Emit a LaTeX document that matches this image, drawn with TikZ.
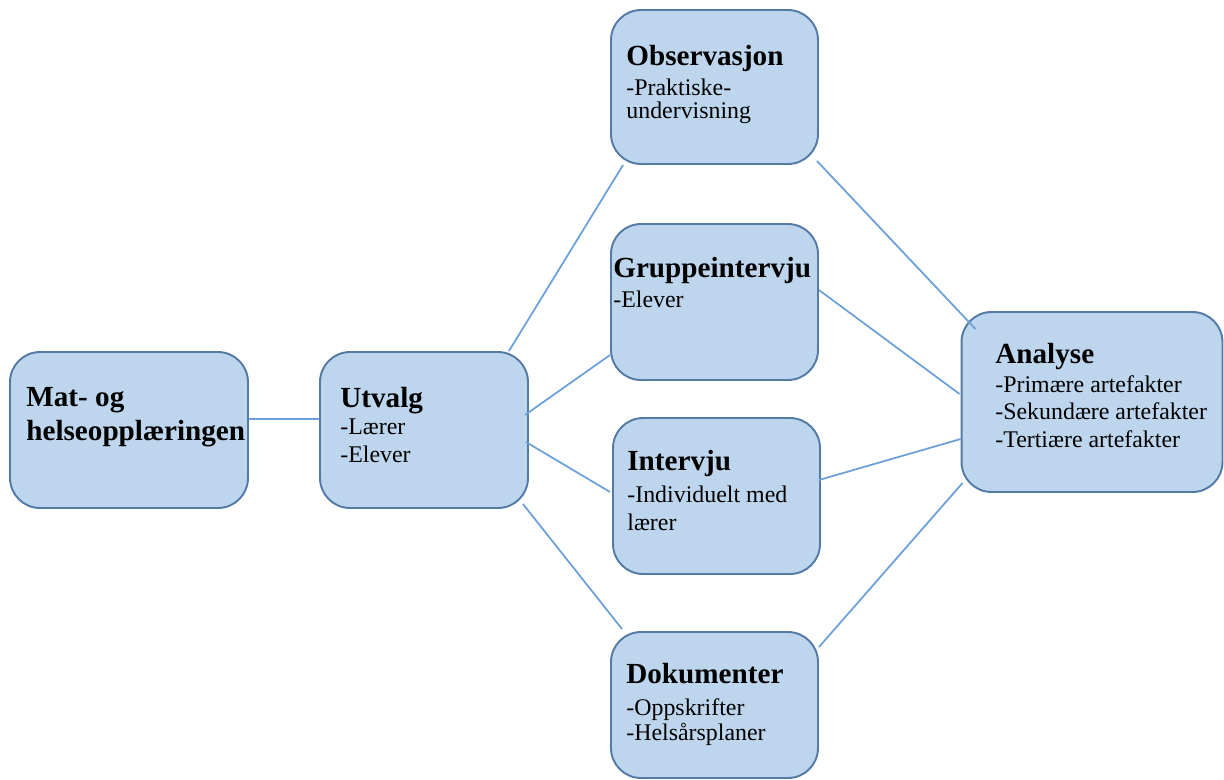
\documentclass[tikz,border=0pt]{standalone}
\usepackage{fontspec}
\setmainfont{Liberation Serif}
\usetikzlibrary{positioning}
\usetikzlibrary{calc}

\definecolor{boxfill}{RGB}{190,214,237}
\definecolor{boxline}{RGB}{84,122,166}
\definecolor{linkblue}{RGB}{108,160,216}

\begin{document}
\begin{tikzpicture}[x=0.02cm, y=-0.02cm,
    box/.style={draw=boxline, fill=boxfill, line width=1.1pt, rounded corners=0.6cm, inner sep=0pt},
    ttl/.style={anchor=base west, inner sep=0pt, align=left, font=\fontsize{16.6}{18.8}\selectfont\bfseries},
    txt/.style={anchor=base west, inner sep=0pt, align=left, font=\fontsize{13.6}{15.5}\selectfont},
    link/.style={draw=linkblue, line width=1pt}]

    \useasboundingbox (0,0) rectangle (1224,779);

    % boxes
    \node[box, minimum width=4.76cm, minimum height=3.12cm] (mat) at (129,430) {};
    \node[box, minimum width=4.16cm, minimum height=3.12cm] (utv) at (424,430) {};
    \node[box, minimum width=4.14cm, minimum height=3.08cm] (obs) at (714.5,87) {};
    \node[box, minimum width=4.14cm, minimum height=3.12cm] (grp) at (714.5,302) {};
    \node[box, minimum width=4.14cm, minimum height=3.12cm] (int) at (716.5,496) {};
    \node[box, minimum width=4.14cm, minimum height=2.92cm] (dok) at (714.5,705) {};
    \node[box, minimum width=5.22cm, minimum height=3.6cm] (ana) at (1092,402) {};

    % texts (base = baseline of the last line)
    \node[ttl] (mat-t) at (26,440) {Mat- og\\helseopplæringen};

    \node[ttl] (utv-t) at (340,407) {Utvalg};
    \node[txt] (utv-b) at (340,462) {-Lærer\\-Elever};

    \node[ttl] (obs-t) at (626,65) {Observasjon};
    \node[txt, font=\fontsize{13.6}{13}\selectfont] (obs-b) at (626,118) {-Praktiske-\\undervisning};

    \node[ttl] (grp-t) at (613,277) {Gruppeintervju};
    \node[txt] (grp-b) at (613,307) {-Elever};

    \node[ttl] (int-t) at (627,470) {Intervju};
    \node[txt] (int-b) at (627,530) {-Individuelt med\\lærer};

    \node[ttl] (dok-t) at (626,683) {Dokumenter};
    \node[txt, font=\fontsize{13.6}{14.2}\selectfont] (dok-b) at (626,740) {-Oppskrifter\\-Helsårsplaner};

    \node[ttl] (ana-t) at (995,363) {Analyse};
    \node[txt] (ana-b) at (995,447) {-Primære artefakter\\-Sekundære artefakter\\-Tertiære artefakter};

    % connectors
    \path[link] ($(mat.east)+(0,-11)$) -- ($(utv.west)+(0,-11)$);

    \path[link] ($(utv.north east)+(-20,0)$) -- ($(obs.south west)+(13,0)$);
    \path[link] ($(utv.east)+(-4,-15)$) -- ($(grp.west)+(0,53)$);
    \path[link] ($(utv.east)+(-3,12)$) -- ($(int.west)+(-2,-4)$);
    \path[link] ($(utv.south east)+(-6,-5)$) -- ($(dok.north west)+(12,-2)$);

    \path[link] ($(obs.south east)+(-2,-4)$) -- ($(ana.north west)+(15,18)$);
    \path[link] ($(grp.east)+(0,-12)$) -- ($(ana.west)+(-1,-8)$);
    \path[link] ($(int.east)+(-2,-16)$) -- ($(ana.west)+(0,37)$);
    \path[link] ($(dok.north east)+(0,16)$) -- ($(ana.south west)+(2,-10)$);
\end{tikzpicture}
\end{document}
